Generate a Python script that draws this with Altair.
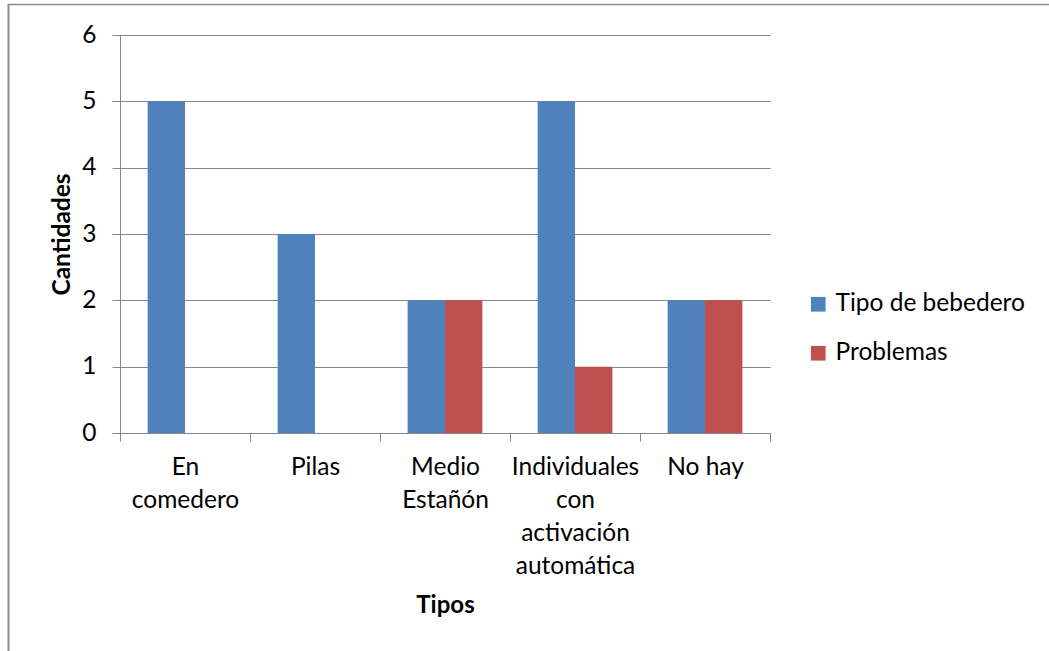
import altair as alt
import pandas as pd

# Drinker types surveyed and the counts for each series
categories = [
    "En comedero",
    "Pilas",
    "Medio Estañón",
    "Individuales con activación automática",
    "No hay",
]
series = ["Tipo de bebedero", "Problemas"]
tipo_de_bebedero = [5, 3, 2, 5, 2]
problemas = [0, 0, 2, 1, 2]
y_ticks = [0, 1, 2, 3, 4, 5, 6]
colors = ["#4F81BD", "#C0504D"]

rows = []
for cat, a, b in zip(categories, tipo_de_bebedero, problemas):
    rows.append({"Tipos": cat, "Serie": series[0], "Cantidades": a})
    rows.append({"Tipos": cat, "Serie": series[1], "Cantidades": b})
df = pd.DataFrame(rows)

FONT = "Lato"
GRAY = "#868686"
TEXT = "#000000"
FS = 24.5

bars = alt.Chart(df).mark_bar().encode(
    x=alt.X(
        "Tipos:N",
        sort=categories,
        scale=alt.Scale(paddingInner=0, paddingOuter=0),
        axis=alt.Axis(
            title="Tipos",
            tickBand="extent",
            labelAngle=0,
            labelExpr="datum.label == 'No hay' ? datum.label : split(datum.label, ' ')",
            labelFont=FONT,
            labelFontSize=FS,
            labelColor=TEXT,
            labelLineHeight=33,
            labelPadding=14,
            labelBaseline="top",
            labelLimit=0,
            domainColor=GRAY,
            domainWidth=1,
            tickColor=GRAY,
            tickSize=8,
            titleFont=FONT,
            titleFontSize=24,
            titleFontWeight="bold",
            titleColor=TEXT,
            titleY=172,
            titleBaseline="middle",
        ),
    ),
    xOffset=alt.XOffset(
        "Serie:N",
        sort=series,
        scale=alt.Scale(paddingInner=0, paddingOuter=0.74),
    ),
    y=alt.Y(
        "Cantidades:Q",
        scale=alt.Scale(domain=[0, 6], nice=False),
        axis=alt.Axis(
            title="Cantidades",
            values=y_ticks,
            format="d",
            labelFont=FONT,
            labelFontSize=FS,
            labelColor=TEXT,
            labelPadding=16,
            domainColor=GRAY,
            domainWidth=1,
            tickColor=GRAY,
            tickSize=8,
            gridColor=GRAY,
            gridWidth=1,
            titleFont=FONT,
            titleFontSize=24.5,
            titleFontWeight="bold",
            titleColor=TEXT,
            titleX=-58,
            titleY=199,
            titleAngle=-90,
            titleBaseline="middle",
        ),
    ),
    color=alt.Color(
        "Serie:N",
        sort=series,
        scale=alt.Scale(domain=series, range=colors),
        legend=alt.Legend(
            title=None,
            orient="none",
            legendX=686,
            legendY=257,
            symbolType="square",
            symbolSize=215,
            symbolStrokeWidth=0,
            labelFont=FONT,
            labelFontSize=FS,
            labelColor=TEXT,
            labelOffset=5,
            labelLimit=0,
            rowPadding=24,
        ),
    ),
)

# Outer frame around the whole chart (top and left edges)
frame_df = pd.DataFrame({"k": [0]})
frame_top = alt.Chart(frame_df).mark_rule(color="#8C8C8C", strokeWidth=1.5).encode(
    x=alt.value(-112), x2=alt.value(940), y=alt.value(-30.5)
)
frame_left = alt.Chart(frame_df).mark_rule(color="#8C8C8C", strokeWidth=2).encode(
    x=alt.value(-111.5), y=alt.value(-31), y2=alt.value(620)
)

chart = (
    alt.layer(frame_top, frame_left, bars)
    .properties(
        width=650,
        height=398,
        autosize=alt.AutoSizeParams(type="none"),
        padding={"left": 120, "top": 35, "right": 279, "bottom": 218},
        background="#FFFFFF",
    )
    .configure_view(stroke=None)
)

chart.save("out.html", embed_options={"renderer": "svg", "actions": False})
